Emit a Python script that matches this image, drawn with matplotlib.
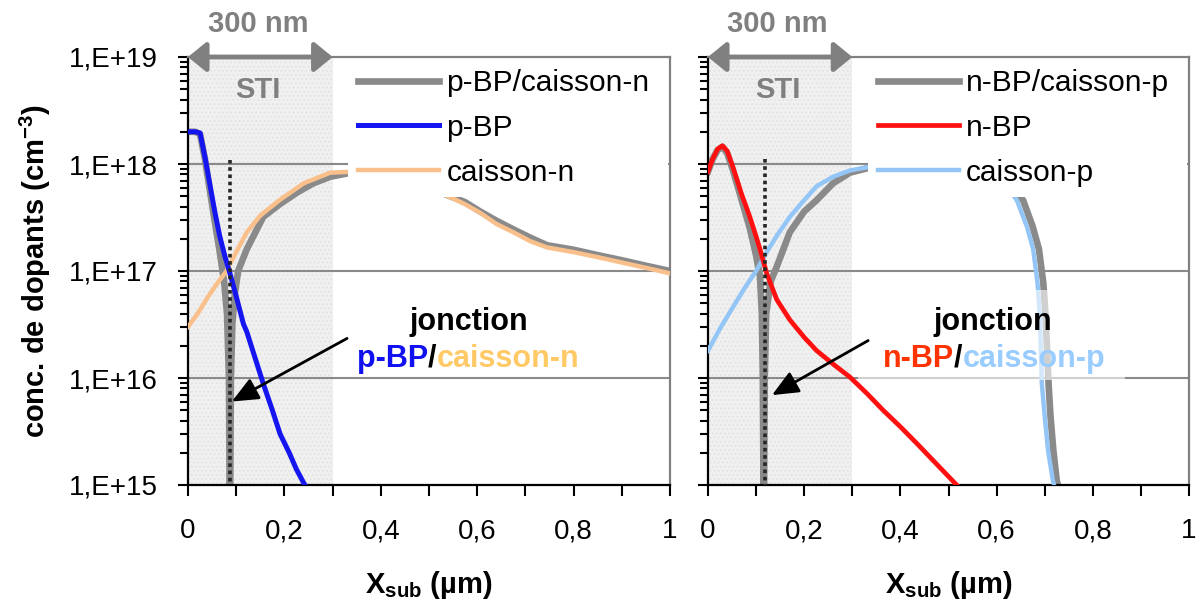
#!/usr/bin/env python3
"""Dopant profiles across the STI junction (p-BP / caisson-n and n-BP / caisson-p)."""

import matplotlib

matplotlib.use("Agg")
import matplotlib.pyplot as plt
from matplotlib.patches import Rectangle
from matplotlib.transforms import offset_copy

plt.rcParams["font.family"] = ["Liberation Sans", "DejaVu Sans"]
plt.rcParams["mathtext.fontset"] = "custom"
plt.rcParams["mathtext.rm"] = "Liberation Sans"
plt.rcParams["mathtext.bf"] = "Liberation Sans:bold"
plt.rcParams["hatch.linewidth"] = 0.6

# ---- left panel: p-BP / caisson-n ----
pbp_x = [0, 0.015, 0.025, 0.035, 0.046, 0.056, 0.066, 0.077, 0.087, 0.1, 0.115, 0.122,
         0.14, 0.156, 0.175, 0.191, 0.21, 0.225, 0.245]
pbp_c = [2.0e18, 2.0e18, 1.95e18, 1.17e18, 6.2e17, 3.5e17, 2.1e17, 1.35e17, 9.5e16, 5.8e16,
         3.2e16, 2.7e16, 1.5e16, 8.9e15, 5.0e15, 3.0e15, 2.0e15, 1.4e15, 9.5e14]

cn_x = [0, 0.02, 0.04, 0.06, 0.08, 0.1, 0.122, 0.15, 0.19, 0.24, 0.295, 0.35, 0.4, 0.45,
        0.5, 0.544, 0.575, 0.606, 0.64, 0.675, 0.71, 0.745, 0.8, 0.849, 0.9, 0.95, 1.0]
cn_c = [3.0e16, 4.0e16, 5.6e16, 7.6e16, 1.0e17, 1.5e17, 2.3e17, 3.3e17, 4.6e17, 6.6e17,
        8.3e17, 8.5e17, 7.9e17, 6.9e17, 5.9e17, 4.9e17, 4.2e17, 3.5e17, 2.75e17, 2.3e17,
        1.9e17, 1.66e17, 1.5e17, 1.35e17, 1.2e17, 1.07e17, 9.5e16]

netl_x = [0, 0.015, 0.025, 0.035, 0.045, 0.055, 0.065, 0.075, 0.081, 0.085, 0.087, 0.089,
          0.092, 0.097, 0.104, 0.122, 0.156, 0.19, 0.226, 0.26, 0.295, 0.35, 0.4, 0.45,
          0.5, 0.544, 0.575, 0.606, 0.64, 0.675, 0.71, 0.745, 0.8, 0.849, 0.9, 0.95, 1.0]
netl_c = [2.0e18, 2.0e18, 1.9e18, 1.12e18, 5.8e17, 3.0e17, 1.6e17, 7.9e16, 4.0e16, 1.0e16,
          3.0e14, 1.0e16, 3.2e16, 6.0e16, 1.0e17, 1.6e17, 3.2e17, 4.2e17, 5.4e17, 6.6e17,
          7.6e17, 8.5e17, 8.1e17, 7.1e17, 6.0e17, 5.0e17, 4.4e17, 3.6e17, 2.95e17, 2.45e17,
          2.05e17, 1.74e17, 1.58e17, 1.41e17, 1.26e17, 1.12e17, 1.0e17]

junction_left = 0.087

# ---- right panel: n-BP / caisson-p ----
nbp_x = [0, 0.01, 0.02, 0.03, 0.04, 0.052, 0.07, 0.087, 0.1, 0.108, 0.122, 0.143, 0.17,
         0.2, 0.226, 0.26, 0.295, 0.33, 0.364, 0.4, 0.434, 0.47, 0.517]
nbp_c = [8.5e17, 1.12e18, 1.38e18, 1.48e18, 1.32e18, 9.3e17, 5.2e17, 3.2e17, 2.1e17,
         1.6e17, 9.5e16, 5.4e16, 3.5e16, 2.4e16, 1.8e16, 1.35e16, 1.02e16, 7.2e15, 5.0e15,
         3.5e15, 2.45e15, 1.66e15, 1.0e15]

cp_x = [0, 0.025, 0.052, 0.075, 0.1, 0.122, 0.145, 0.17, 0.2, 0.226, 0.26, 0.295, 0.33,
        0.4, 0.5, 0.58, 0.62, 0.642, 0.663, 0.676, 0.685, 0.69, 0.692, 0.694, 0.7, 0.707,
        0.717, 0.722]
cp_c = [1.8e16, 2.9e16, 4.6e16, 6.8e16, 1.0e17, 1.5e17, 2.2e17, 3.2e17, 4.6e17, 6.2e17,
        7.6e17, 8.7e17, 9.3e17, 1.0e18, 9.5e17, 7.9e17, 6.3e17, 4.6e17, 2.6e17, 1.6e17,
        7.8e16, 3.7e16, 1.8e16, 8.9e15, 4.4e15, 2.1e15, 1.1e15, 9.0e14]

netr_x = [0, 0.01, 0.02, 0.03, 0.04, 0.052, 0.07, 0.087, 0.1, 0.108, 0.112, 0.114, 0.116,
          0.118, 0.121, 0.13, 0.143, 0.17, 0.2, 0.226, 0.26, 0.295, 0.33, 0.4, 0.5, 0.58,
          0.62, 0.655, 0.675, 0.688, 0.697, 0.702, 0.705, 0.708, 0.712, 0.718, 0.725, 0.73]
netr_c = [8.5e17, 1.12e18, 1.35e18, 1.45e18, 1.26e18, 8.7e17, 4.6e17, 2.5e17, 1.4e17,
          8.9e16, 4.0e16, 1.0e16, 3.0e14, 1.0e16, 4.0e16, 7.9e16, 1.1e17, 2.3e17, 3.6e17,
          4.6e17, 6.6e17, 8.3e17, 9.1e17, 9.8e17, 9.3e17, 7.9e17, 6.3e17, 4.6e17, 2.6e17,
          1.6e17, 7.8e16, 3.7e16, 1.8e16, 8.9e15, 4.4e15, 2.1e15, 1.1e15, 9.0e14]

junction_right = 0.118

ytick_vals = [1e15, 1e16, 1e17, 1e18, 1e19]
ytick_labels = ["1,E+15", "1,E+16", "1,E+17", "1,E+18", "1,E+19"]
xtick_vals = [0, 0.2, 0.4, 0.6, 0.8, 1.0]
xtick_labels = ["0", "0,2", "0,4", "0,6", "0,8", "1"]

GRAY = "#8a8a8a"
TEXT_GRAY = "#808080"
FS = 21


def style_axes(ax, show_ylabels):
    ax.set_yscale("log")
    ax.set_xlim(0, 1)
    ax.set_ylim(1e15, 1e19)
    ax.set_yticks(ytick_vals)
    ax.set_yticklabels(ytick_labels if show_ylabels else [])
    ax.yaxis.set_minor_locator(matplotlib.ticker.LogLocator(base=10, subs=range(2, 10)))
    ax.yaxis.set_minor_formatter(matplotlib.ticker.NullFormatter())
    ax.set_xticks(xtick_vals)
    ax.set_xticklabels(xtick_labels)
    ax.set_xticks([0.1, 0.3, 0.5, 0.7, 0.9], minor=True)
    ax.tick_params(axis="both", which="both", direction="out", width=1.5, color="black",
                   labelsize=20)
    ax.tick_params(axis="y", which="major", length=7, pad=15)
    ax.tick_params(axis="y", which="minor", length=6)
    ax.tick_params(axis="x", which="both", length=8, pad=16)
    for side in ("left", "bottom"):
        ax.spines[side].set_color("black")
        ax.spines[side].set_linewidth(1.6)
    for side in ("top", "right"):
        ax.spines[side].set_color(TEXT_GRAY)
        ax.spines[side].set_linewidth(1.6)
    # STI region
    ax.axvspan(0, 0.3, facecolor="#f0f0f0", edgecolor="#e0e0e0", hatch="....", lw=0, zorder=0)
    for level in ytick_vals[1:-1]:
        ax.axhline(level, color=GRAY, lw=1.5, zorder=1)
    ax.annotate("", xy=(0, 1e19), xytext=(0.3, 1e19), annotation_clip=False,
                arrowprops=dict(arrowstyle="<|-|>,head_length=0.55,head_width=0.45",
                                color=TEXT_GRAY, lw=3.5, mutation_scale=20,
                                shrinkA=0, shrinkB=0))
    trans = ax.get_xaxis_transform()
    ax.text(0.145, 1.077, "300 nm", transform=trans, ha="center", va="center",
            fontsize=FS, fontweight="bold", color=TEXT_GRAY)
    ax.text(0.145, 0.923, "STI", transform=trans, ha="center", va="center",
            fontsize=FS, fontweight="bold", color=TEXT_GRAY)


def junction_text(ax, x_center, x_slash, left_word, left_color, right_word, right_color,
                  arrow_from, arrow_to):
    fig = ax.figure
    ax.text(x_center, 10 ** 16.449, "jonction", ha="center", va="baseline",
            fontsize=22, fontweight="bold", color="black", zorder=6)
    y2 = 10 ** 16.103
    ax.text(x_slash, y2, "/", ha="center", va="baseline", fontsize=22,
            fontweight="bold", color="black", zorder=6)
    ax.text(x_slash, y2, left_word, ha="right", va="baseline", fontsize=22,
            fontweight="bold", color=left_color, zorder=6,
            transform=offset_copy(ax.transData, fig=fig, x=-3.1, y=0, units="points"))
    ax.text(x_slash, y2, right_word, ha="left", va="baseline", fontsize=22,
            fontweight="bold", color=right_color, zorder=6,
            transform=offset_copy(ax.transData, fig=fig, x=3.1, y=0, units="points"))
    ax.annotate("", xy=arrow_to, xytext=arrow_from, zorder=6,
                arrowprops=dict(arrowstyle="-|>,head_length=0.8,head_width=0.35",
                                color="black", lw=2, mutation_scale=20,
                                shrinkA=0, shrinkB=0))


def add_legend(ax, handles):
    # white area behind the legend, a little deeper than the legend itself
    ax.add_patch(Rectangle((0.332, 0.673), 0.664, 0.323, transform=ax.transAxes,
                           facecolor="white", edgecolor="none", zorder=4.8))
    leg = ax.legend(handles=handles, loc="upper left", bbox_to_anchor=(0.332, 0.996),
                    borderaxespad=0, borderpad=0.35, handlelength=2.7, handletextpad=0.25,
                    labelspacing=0.56, fontsize=21.5, frameon=True, fancybox=False,
                    framealpha=1, facecolor="white", edgecolor="none")
    leg.set_zorder(5)


fig = plt.figure(figsize=(11.99, 6.03), dpi=100)
ax1 = fig.add_axes([188 / 1199, 1 - 485 / 603, 482 / 1199, 428 / 603])
ax2 = fig.add_axes([708 / 1199, 1 - 485 / 603, 481 / 1199, 428 / 603])

# left panel
style_axes(ax1, True)
h_net, = ax1.plot(netl_x, netl_c, color=GRAY, lw=4.8, zorder=2, label="p-BP/caisson-n")
h_cn, = ax1.plot(cn_x, cn_c, color="#f9c08c", lw=3.2, zorder=3, label="caisson-n")
h_p, = ax1.plot(pbp_x, pbp_c, color="#1515f0", lw=3.6, zorder=3.5, label="p-BP")
ax1.plot([junction_left, junction_left], [1.1e18, 1e15], color="#262626", lw=2.6,
         linestyle=(0, (1, 1)), zorder=4)
add_legend(ax1, [h_net, h_p, h_cn])
junction_text(ax1, 0.583, 0.507, "p-BP", "#1010f0", "caisson-n", "#ffc966",
              (0.33, 10 ** 16.37), (0.091, 10 ** 15.78))

# right panel
style_axes(ax2, False)
h_net2, = ax2.plot(netr_x, netr_c, color=GRAY, lw=4.8, zorder=2, label="n-BP/caisson-p")
h_cp, = ax2.plot(cp_x, cp_c, color="#93c6f6", lw=3.2, zorder=3, label="caisson-p")
h_n, = ax2.plot(nbp_x, nbp_c, color="#ff1010", lw=3.4, zorder=3.5, label="n-BP")
ax2.plot([junction_right, junction_right], [1.12e18, 1e15], color="#262626", lw=2.6,
         linestyle=(0, (1, 1)), zorder=4)
add_legend(ax2, [h_net2, h_n, h_cp])
ax2.add_patch(Rectangle((0.312, 9.5e15), 0.555, 6.6e16 - 9.5e15, facecolor="white",
                        alpha=0.6, edgecolor="none", zorder=4.5))
junction_text(ax2, 0.593, 0.520, "n-BP", "#ff3300", "caisson-p", "#99ccff",
              (0.333, 10 ** 16.35), (0.133, 10 ** 15.84))

# axis titles
fig.text(35 / 1199, 1 - 271 / 603, "conc. de dopants (cm$^{\\mathbf{-3}}$)", rotation=90,
         ha="center", va="center", fontsize=21, fontweight="bold")
for ax in (ax1, ax2):
    ax.text(0.5, -0.253, "X$_{\\mathbf{sub}}$ (µm)", transform=ax.transAxes, ha="center",
            va="baseline", fontsize=21, fontweight="bold")

fig.savefig("out.png", dpi=100)
